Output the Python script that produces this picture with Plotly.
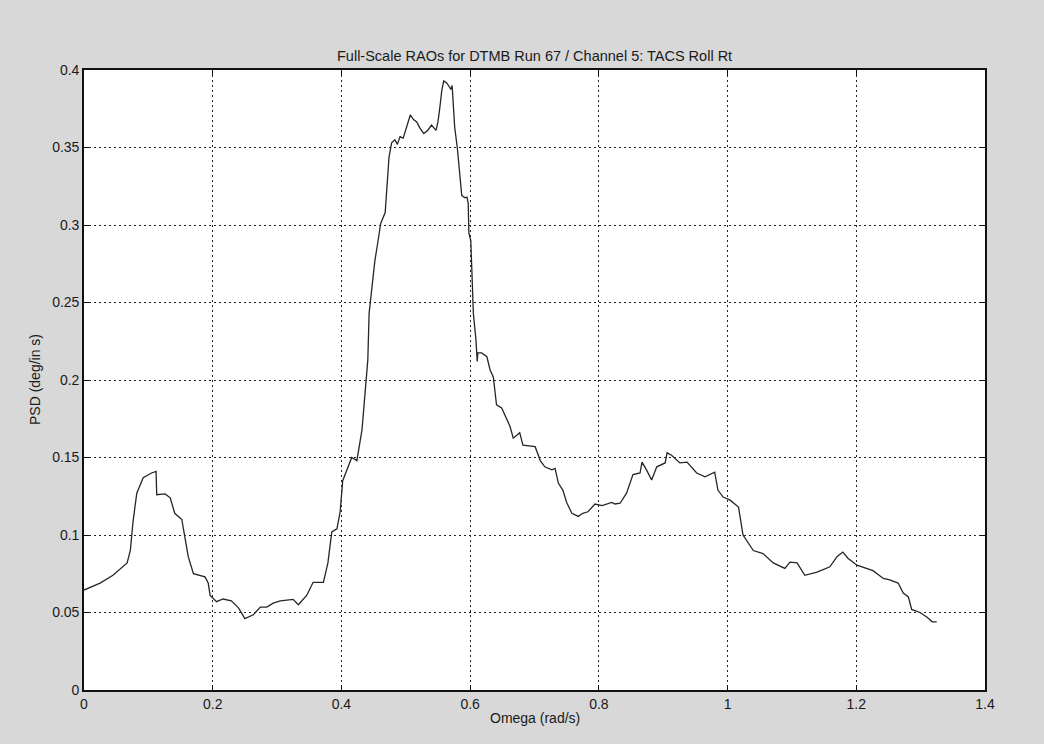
import plotly.graph_objects as go

# Data
omega = [0, 0.025, 0.045, 0.067, 0.072, 0.076, 0.082, 0.092, 0.105, 0.112, 0.113, 0.126, 0.134,
         0.141, 0.152, 0.157, 0.162, 0.170, 0.188, 0.193, 0.196, 0.206, 0.216, 0.229, 0.240,
         0.250, 0.263, 0.274, 0.284, 0.294, 0.305, 0.325, 0.333, 0.346, 0.356, 0.372, 0.379,
         0.385, 0.393, 0.398, 0.402, 0.416, 0.424, 0.432, 0.437, 0.441, 0.443, 0.447, 0.452,
         0.457, 0.461, 0.468, 0.471, 0.474, 0.478, 0.483, 0.487, 0.491, 0.496, 0.501, 0.507,
         0.512, 0.517, 0.522, 0.528, 0.534, 0.540, 0.547, 0.550, 0.553, 0.556, 0.559, 0.564,
         0.567, 0.570, 0.572, 0.573, 0.576, 0.580, 0.583, 0.587, 0.592, 0.595, 0.597, 0.598,
         0.601, 0.603, 0.605, 0.609, 0.611, 0.612, 0.618, 0.626, 0.631, 0.636, 0.641, 0.649,
         0.657, 0.662, 0.667, 0.677, 0.682, 0.690, 0.701, 0.709, 0.716, 0.727, 0.732, 0.737,
         0.744, 0.750, 0.758, 0.768, 0.775, 0.783, 0.794, 0.805, 0.820, 0.825, 0.833, 0.843,
         0.853, 0.864, 0.867, 0.874, 0.882, 0.890, 0.903, 0.906, 0.913, 0.926, 0.937, 0.952,
         0.965, 0.980, 0.985, 0.993, 1.004, 1.017, 1.024, 1.040, 1.055, 1.071, 1.089, 1.097,
         1.108, 1.120, 1.139, 1.159, 1.170, 1.179, 1.187, 1.201, 1.216, 1.226, 1.242, 1.252,
         1.265, 1.273, 1.281, 1.286, 1.299, 1.310, 1.318, 1.325]
psd = [0.0645, 0.069, 0.074, 0.082, 0.090, 0.108, 0.127, 0.137, 0.140, 0.141, 0.126, 0.1265, 0.124,
       0.114, 0.110, 0.099, 0.086, 0.075, 0.073, 0.069, 0.061, 0.057, 0.0587, 0.0575, 0.053,
       0.046, 0.0485, 0.0535, 0.0535, 0.056, 0.0575, 0.0585, 0.055, 0.061, 0.0695, 0.0695, 0.082,
       0.102, 0.104, 0.115, 0.135, 0.150, 0.148, 0.168, 0.194, 0.213, 0.243, 0.260, 0.277,
       0.290, 0.301, 0.308, 0.3245, 0.344, 0.353, 0.355, 0.352, 0.357, 0.356, 0.363, 0.371,
       0.368, 0.3665, 0.3625, 0.359, 0.361, 0.3645, 0.361, 0.3665, 0.376, 0.387, 0.393, 0.3915,
       0.3895, 0.3875, 0.390, 0.381, 0.363, 0.350, 0.3355, 0.319, 0.3175, 0.318, 0.314, 0.295,
       0.290, 0.269, 0.243, 0.226, 0.212, 0.2175, 0.2175, 0.215, 0.2065, 0.202, 0.184, 0.182,
       0.174, 0.170, 0.1625, 0.166, 0.158, 0.1575, 0.157, 0.148, 0.144, 0.142, 0.143, 0.1335,
       0.129, 0.121, 0.114, 0.112, 0.114, 0.115, 0.120, 0.119, 0.121, 0.120, 0.1205, 0.127,
       0.139, 0.140, 0.147, 0.142, 0.1355, 0.144, 0.1465, 0.153, 0.1515, 0.1465, 0.147, 0.140,
       0.1375, 0.1405, 0.129, 0.1245, 0.1225, 0.118, 0.100, 0.090, 0.088, 0.082, 0.0785, 0.0825,
       0.082, 0.074, 0.076, 0.0795, 0.086, 0.089, 0.085, 0.0805, 0.0785, 0.077, 0.072, 0.071,
       0.069, 0.0625, 0.060, 0.052, 0.050, 0.047, 0.044, 0.044]

x_ticks = [0, 0.2, 0.4, 0.6, 0.8, 1.0, 1.2, 1.4]
x_tick_labels = ["0", "0.2", "0.4", "0.6", "0.8", "1", "1.2", "1.4"]
y_ticks = [0, 0.05, 0.1, 0.15, 0.2, 0.25, 0.3, 0.35, 0.4]
y_tick_labels = ["0", "0.05", "0.1", "0.15", "0.2", "0.25", "0.3", "0.35", "0.4"]

title_text = "Full-Scale RAOs for DTMB Run 67 / Channel 5: TACS Roll Rt"
x_title = "Omega (rad/s)"
y_title = "PSD (deg/in s)"

FONT = "Liberation Sans Narrow, Arial Narrow, Liberation Sans, Arial, sans-serif"
TXT = "#1a1a1a"

fig = go.Figure()
fig.add_trace(go.Scatter(x=omega, y=psd, mode="lines",
                         line=dict(color="#262626", width=1.3), showlegend=False,
                         hoverinfo="skip"))

axis_common = dict(
    showgrid=True, gridcolor="#222222", gridwidth=1.2, griddash="2px,3px",
    showline=True, linecolor="#111111", linewidth=1.6, mirror="ticks",
    ticks="inside", ticklen=5, tickcolor="#111111", tickwidth=1,
    zeroline=False, tickfont=dict(family=FONT, size=14, color=TXT),
)

fig.update_xaxes(range=[0, 1.4], tickmode="array", tickvals=x_ticks, ticktext=x_tick_labels,
                 **axis_common)
fig.update_yaxes(range=[0, 0.4], tickmode="array", tickvals=y_ticks, ticktext=y_tick_labels,
                 **axis_common)

fig.update_layout(
    width=1044, height=744,
    margin=dict(l=84, r=59, t=70, b=54),
    paper_bgcolor="#d8d8d8", plot_bgcolor="#ffffff",
    font=dict(family=FONT, size=14, color=TXT),
    annotations=[
        dict(text=title_text, xref="paper", yref="paper", x=0.5, y=(690 - 56) / 620,
             xanchor="center", yanchor="middle", showarrow=False,
             font=dict(family=FONT, size=14.5, color=TXT)),
        dict(text=x_title, xref="paper", yref="paper", x=0.5, y=(690 - 718) / 620,
             xanchor="center", yanchor="middle", showarrow=False,
             font=dict(family=FONT, size=14, color=TXT)),
        dict(text=y_title, xref="paper", yref="paper", x=(35 - 84) / 901, y=0.5,
             xanchor="center", yanchor="middle", textangle=-90, showarrow=False,
             font=dict(family=FONT, size=14, color=TXT)),
    ],
)

fig.write_html("out.html")
